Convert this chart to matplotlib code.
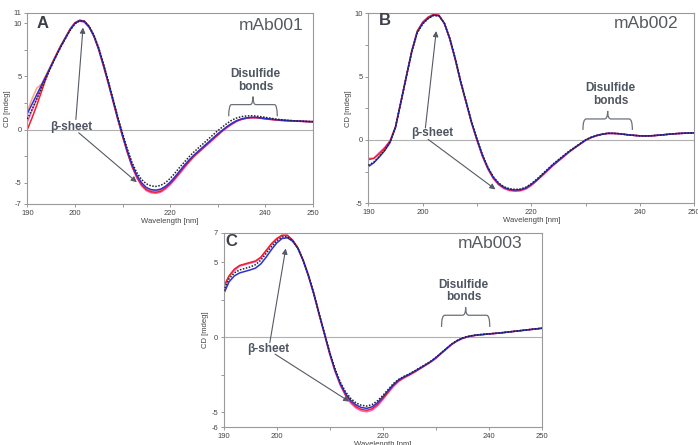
import numpy as np
import matplotlib
matplotlib.use("Agg")
import matplotlib.pyplot as plt
from matplotlib.path import Path
from matplotlib.patches import PathPatch

plt.rcParams['font.family'] = ['Liberation Sans', 'DejaVu Sans']

# wavelength grid [nm], 1 nm steps
wl = np.arange(190, 251)

# ---- mAb001 (panel A) ----
A_blue = [1.5, 2.4, 3.3, 4.2, 5.1, 6.0, 6.9, 7.8, 8.6, 9.4,
          10.0, 10.25, 10.15, 9.65, 8.8, 7.6, 6.1, 4.5, 2.8, 1.1,
          -0.5, -2.0, -3.3, -4.3, -5.0, -5.45, -5.65, -5.7, -5.6, -5.35,
          -4.95, -4.45, -3.9, -3.35, -2.85, -2.4, -2.0, -1.6, -1.2, -0.8,
          -0.4, -0.05, 0.3, 0.6, 0.85, 1.0, 1.1, 1.15, 1.15, 1.1,
          1.05, 1.0, 0.95, 0.9, 0.87, 0.85, 0.83, 0.8, 0.78, 0.76,
          0.75]
A_black = [1.0, 1.9, 2.9, 3.9, 4.9, 5.9, 6.85, 7.75, 8.55, 9.35,
           9.95, 10.25, 10.2, 9.7, 8.9, 7.7, 6.2, 4.6, 2.9, 1.2,
           -0.35, -1.8, -3.1, -4.05, -4.7, -5.1, -5.3, -5.35, -5.25, -5.0,
           -4.6, -4.1, -3.55, -3.05, -2.55, -2.1, -1.7, -1.3, -0.9, -0.5,
           -0.1, 0.25, 0.6, 0.9, 1.1, 1.22, 1.28, 1.3, 1.28, 1.22,
           1.15, 1.08, 1.0, 0.95, 0.9, 0.86, 0.83, 0.8, 0.78, 0.76,
           0.75]
A_red = [0.0, 1.1, 2.3, 3.6, 4.9, 6.0, 6.95, 7.85, 8.65, 9.45,
         10.05, 10.3, 10.2, 9.7, 8.8, 7.55, 6.0, 4.4, 2.7, 1.0,
         -0.6, -2.1, -3.45, -4.45, -5.2, -5.65, -5.85, -5.9, -5.8, -5.5,
         -5.1, -4.6, -4.05, -3.5, -3.0, -2.5, -2.1, -1.7, -1.3, -0.9,
         -0.5, -0.1, 0.25, 0.55, 0.8, 0.98, 1.08, 1.13, 1.13, 1.08,
         1.02, 0.97, 0.92, 0.88, 0.85, 0.83, 0.81, 0.79, 0.77, 0.75,
         0.74]
A_pink = [0.7, 1.8, 2.9, 4.0, 5.0, 6.0, 6.9, 7.8, 8.6, 9.4,
          10.0, 10.2, 10.1, 9.6, 8.75, 7.5, 5.95, 4.35, 2.65, 0.95,
          -0.65, -2.15, -3.5, -4.55, -5.3, -5.75, -5.95, -6.0, -5.9, -5.6,
          -5.2, -4.7, -4.15, -3.6, -3.05, -2.55, -2.15, -1.75, -1.35, -0.95,
          -0.55, -0.15, 0.2, 0.5, 0.78, 0.95, 1.05, 1.1, 1.1, 1.06,
          1.0, 0.95, 0.9, 0.87, 0.84, 0.82, 0.8, 0.78, 0.76, 0.74,
          0.73]
A_orange = [1.7, 2.9, 3.9, 4.3, 5.2, 6.1, 7.0, 7.9, 8.7, 9.5,
            10.05, 10.25, 10.15, 9.65, 8.78, 7.55, 6.05, 4.45, 2.75, 1.05,
            -0.55, -2.05, -3.4, -4.4, -5.1, -5.55, -5.75, -5.8, -5.7, -5.42,
            -5.0, -4.5, -3.95, -3.4, -2.9, -2.45, -2.05, -1.65, -1.25, -0.85,
            -0.45, -0.1, 0.27, 0.57, 0.82, 0.99, 1.08, 1.13, 1.13, 1.08,
            1.03, 0.98, 0.93, 0.89, 0.86, 0.84, 0.82, 0.8, 0.78, 0.76,
            0.75]

# ---- mAb002 (panel B) ----
B_blue = [-2.1, -1.8, -1.35, -0.85, -0.2, 1.0, 3.0, 5.0, 7.0, 8.5,
          9.2, 9.6, 9.85, 9.8, 9.2, 8.0, 6.4, 4.6, 3.0, 1.4,
          0.05, -1.2, -2.2, -2.95, -3.45, -3.75, -3.9, -3.95, -3.92, -3.78,
          -3.5, -3.15, -2.75, -2.35, -1.95, -1.6, -1.25, -0.9, -0.6, -0.3,
          0.0, 0.2, 0.35, 0.45, 0.52, 0.52, 0.5, 0.45, 0.4, 0.36,
          0.33, 0.32, 0.33, 0.36, 0.4, 0.44, 0.48, 0.51, 0.53, 0.55,
          0.56]
B_black = [-2.0, -1.75, -1.3, -0.8, -0.15, 1.05, 3.0, 5.0, 6.95, 8.45,
           9.15, 9.58, 9.83, 9.8, 9.22, 8.05, 6.45, 4.65, 3.05, 1.45,
           0.1, -1.15, -2.15, -2.9, -3.4, -3.7, -3.85, -3.9, -3.87, -3.73,
           -3.45, -3.1, -2.7, -2.3, -1.9, -1.55, -1.2, -0.87, -0.57, -0.28,
           0.02, 0.22, 0.36, 0.46, 0.53, 0.53, 0.5, 0.45, 0.4, 0.36,
           0.33, 0.32, 0.33, 0.36, 0.4, 0.44, 0.48, 0.51, 0.53, 0.55,
           0.56]
B_red = [-1.55, -1.45, -1.1, -0.65, -0.1, 1.0, 3.0, 5.05, 7.05, 8.6,
         9.3, 9.7, 9.92, 9.85, 9.2, 7.95, 6.35, 4.55, 2.95, 1.35,
         0.0, -1.25, -2.25, -3.0, -3.5, -3.8, -3.95, -4.0, -3.97, -3.83,
         -3.55, -3.2, -2.8, -2.4, -2.0, -1.65, -1.3, -0.93, -0.62, -0.32,
         -0.02, 0.19, 0.34, 0.45, 0.52, 0.52, 0.5, 0.45, 0.4, 0.36,
         0.33, 0.32, 0.33, 0.36, 0.4, 0.44, 0.48, 0.51, 0.53, 0.55,
         0.56]
B_pink = [-1.45, -1.45, -1.0, -0.6, -0.05, 1.05, 3.05, 5.05, 7.0, 8.55,
          9.25, 9.65, 9.9, 9.85, 9.2, 7.95, 6.35, 4.55, 2.95, 1.35,
          -0.05, -1.3, -2.3, -3.05, -3.55, -3.85, -4.0, -4.05, -4.02, -3.88,
          -3.6, -3.22, -2.82, -2.42, -2.02, -1.66, -1.3, -0.94, -0.63, -0.33,
          -0.03, 0.18, 0.33, 0.44, 0.51, 0.52, 0.5, 0.45, 0.4, 0.36,
          0.33, 0.32, 0.33, 0.36, 0.4, 0.44, 0.48, 0.51, 0.53, 0.55,
          0.56]

# ---- mAb003 (panel C) ----
C_black = [3.1, 3.9, 4.3, 4.5, 4.6, 4.7, 4.85, 5.15, 5.6, 6.05,
           6.45, 6.7, 6.72, 6.45, 5.95, 5.15, 4.15, 2.95, 1.6, 0.3,
           -1.0, -2.1, -3.0, -3.65, -4.1, -4.4, -4.55, -4.6, -4.5, -4.25,
           -3.9, -3.5, -3.1, -2.82, -2.62, -2.45, -2.25, -2.04, -1.83, -1.62,
           -1.35, -1.05, -0.75, -0.45, -0.22, -0.05, 0.05, 0.12, 0.17, 0.2,
           0.23, 0.26, 0.29, 0.33, 0.37, 0.41, 0.45, 0.49, 0.53, 0.57,
           0.6]
C_blue = [2.9, 3.7, 4.1, 4.3, 4.4, 4.5, 4.62, 4.9, 5.35, 5.85,
          6.3, 6.6, 6.65, 6.42, 5.93, 5.12, 4.1, 2.9, 1.55, 0.25,
          -1.05, -2.2, -3.1, -3.78, -4.23, -4.53, -4.7, -4.75, -4.65, -4.38,
          -4.0, -3.58, -3.17, -2.85, -2.65, -2.48, -2.28, -2.07, -1.86, -1.64,
          -1.38, -1.07, -0.77, -0.47, -0.24, -0.07, 0.04, 0.11, 0.16, 0.19,
          0.22, 0.25, 0.28, 0.32, 0.36, 0.4, 0.44, 0.48, 0.52, 0.56,
          0.6]
C_red = [3.4, 4.1, 4.55, 4.8, 4.9, 5.0, 5.1, 5.35, 5.8, 6.25,
         6.6, 6.82, 6.82, 6.5, 5.98, 5.15, 4.12, 2.92, 1.56, 0.24,
         -1.08, -2.22, -3.15, -3.85, -4.33, -4.65, -4.83, -4.88, -4.78, -4.5,
         -4.1, -3.67, -3.25, -2.92, -2.7, -2.52, -2.32, -2.1, -1.88, -1.66,
         -1.4, -1.09, -0.78, -0.48, -0.25, -0.08, 0.03, 0.1, 0.15, 0.18,
         0.22, 0.25, 0.28, 0.32, 0.36, 0.4, 0.44, 0.48, 0.52, 0.56,
         0.6]
C_pink = [3.3, 4.05, 4.45, 4.75, 4.85, 4.95, 5.05, 5.3, 5.75, 6.2,
          6.55, 6.78, 6.8, 6.48, 5.95, 5.1, 4.05, 2.85, 1.5, 0.18,
          -1.15, -2.3, -3.22, -3.92, -4.42, -4.75, -4.93, -4.98, -4.88, -4.6,
          -4.18, -3.73, -3.3, -2.96, -2.73, -2.54, -2.34, -2.12, -1.9, -1.68,
          -1.42, -1.1, -0.79, -0.49, -0.26, -0.09, 0.02, 0.1, 0.15, 0.18,
          0.22, 0.25, 0.28, 0.32, 0.36, 0.4, 0.44, 0.48, 0.52, 0.56,
          0.6]

# axis ticks
xticks = [190, 200, 210, 220, 230, 240, 250]
xlabels = ['190', '200', '', '220', '', '240', '250']
A_yticks = [-7, -5, -2.5, 0, 2.5, 5, 7.5, 10, 11]
A_ylabels = ['-7', '-5', '', '0', '', '5', '', '10', '11']
B_yticks = [-5, -2.5, 0, 2.5, 5, 7.5, 10]
B_ylabels = ['-5', '', '0', '', '5', '', '10']
C_yticks = [-6, -5, -2.5, 0, 2.5, 5, 7]
C_ylabels = ['-6', '-5', '', '0', '', '5', '7']

COL = {'orange': '#ffa27a', 'pink': '#ff5fcf', 'red': '#ee2028',
       'blue': '#2a2fd8', 'black': '#222222'}
TXT = '#4f5661'


def brace(ax, x0, x1, y_end, y_bar, y_tip):
    xm = (x0 + x1) / 2
    dx = 0.6
    verts = [(x0, y_end), (x0, y_bar), (x0 + dx, y_bar),
             (xm - dx, y_bar), (xm, y_bar), (xm, y_tip),
             (xm, y_bar), (xm + dx, y_bar),
             (x1 - dx, y_bar), (x1, y_bar), (x1, y_end)]
    codes = [Path.MOVETO, Path.CURVE3, Path.CURVE3,
             Path.LINETO, Path.CURVE3, Path.CURVE3,
             Path.CURVE3, Path.CURVE3,
             Path.LINETO, Path.CURVE3, Path.CURVE3]
    ax.add_patch(PathPatch(Path(verts, codes), fill=False, ec='#6b7079', lw=0.9))


def panel(ax, curves, ylim, yticks, ylabels, letter, name, name_pos, letter_pos,
          beta_xy, tip1, tip2, ds_xy, br):
    for key, vals in curves:
        if key == 'black':
            ax.plot(wl, vals, color=COL[key], lw=1.1, ls=(0, (1, 1)), zorder=5)
        else:
            ax.plot(wl, vals, color=COL[key], lw=1.1)
    ax.axhline(0, color='#b0b0b0', lw=0.8, zorder=0)
    ax.set_xlim(190, 250)
    ax.set_ylim(*ylim)
    ax.set_xticks(xticks)
    ax.set_xticklabels(xlabels)
    ax.set_yticks(yticks)
    ax.set_yticklabels(ylabels)
    ax.tick_params(labelsize=5.5, length=2.5, width=0.6, pad=1.5,
                   color='#888888', labelcolor='#444444')
    for s in ax.spines.values():
        s.set_color('#9a9a9a')
        s.set_linewidth(0.8)
    ax.set_xlabel('Wavelength [nm]', fontsize=5.5, color='#444444', labelpad=1)
    ax.set_ylabel('CD [mdeg]', fontsize=5.5, color='#444444', labelpad=2)
    ax.text(*letter_pos, letter, transform=ax.transAxes, fontsize=12,
            fontweight='bold', color='#3c4049', ha='center', va='center')
    ax.text(*name_pos, name, transform=ax.transAxes, fontsize=12.5,
            color='#555a60', ha='center', va='center')
    ax.text(*beta_xy, 'β-sheet', fontsize=8.5, fontweight='bold', color=TXT,
            ha='center', va='center')
    for start, tip in (tip1, tip2):
        ax.annotate('', xy=tip, xytext=start,
                    arrowprops=dict(arrowstyle='-|>', color='#555a63', lw=0.8,
                                    mutation_scale=8, shrinkA=0, shrinkB=0))
    ax.text(*ds_xy, 'Disulfide\nbonds', fontsize=8.5, fontweight='bold',
            color=TXT, ha='center', va='center', linespacing=1.05)
    brace(ax, *br)


fig = plt.figure(figsize=(6.98, 4.45), dpi=100)
axA = fig.add_axes([0.0391, 0.5416, 0.4093, 0.4299])
axB = fig.add_axes([0.5277, 0.5431, 0.4670, 0.4270])
axC = fig.add_axes([0.3205, 0.0404, 0.4556, 0.4371])

panel(axA, [('orange', A_orange), ('pink', A_pink), ('red', A_red),
            ('blue', A_blue), ('black', A_black)],
      (-7, 11), A_yticks, A_ylabels, 'A', 'mAb001', (0.855, 0.935), (0.054, 0.945),
      (199.3, 0.25), ((200.2, 0.95), (201.7, 9.6)), ((200.8, -0.3), (213.0, -4.95)),
      (237.9, 4.6), (232.3, 242.5, 1.25, 2.35, 3.1))

panel(axB, [('pink', B_pink), ('red', B_red), ('blue', B_blue), ('black', B_black)],
      (-5, 10), B_yticks, B_ylabels, 'B', 'mAb002', (0.853, 0.947), (0.05, 0.963),
      (201.8, 0.53), ((200.5, 0.95), (202.5, 8.6)), ((201.0, 0.05), (213.4, -3.9)),
      (234.6, 3.6), (229.5, 238.6, 0.79, 1.66, 2.29))

panel(axC, [('pink', C_pink), ('red', C_red), ('blue', C_blue), ('black', C_black)],
      (-6, 7), C_yticks, C_ylabels, 'C', 'mAb003', (0.837, 0.942), (0.025, 0.956),
      (198.3, -0.76), ((198.7, -0.36), (201.7, 5.93)), ((199.7, -1.13), (213.7, -4.3)),
      (235.3, 3.1), (231.1, 240.2, 0.69, 1.47, 2.0))

fig.savefig('out.png', dpi=100, facecolor='white')
